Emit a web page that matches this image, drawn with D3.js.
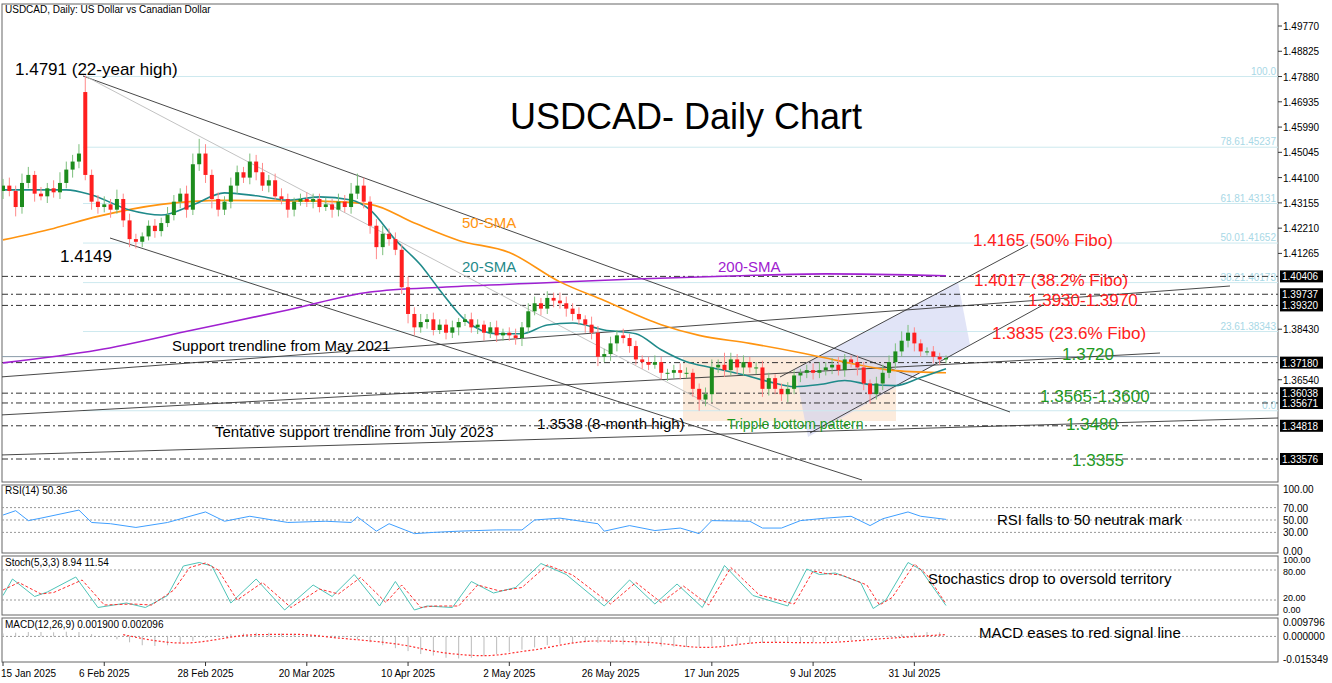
<!DOCTYPE html>
<html><head><meta charset="utf-8">
<script src="https://cdn.jsdelivr.net/npm/d3@7"></script>
<style>
body{margin:0;background:#fff;}
svg{font-family:"Liberation Sans",Arial,sans-serif;}
</style></head>
<body><div id="chart"></div>
<script>
// ---- data ----
var dateLabels = ['15 Jan 2025','6 Feb 2025','28 Feb 2025','20 Mar 2025','10 Apr 2025','2 May 2025','26 May 2025','17 Jun 2025','9 Jul 2025','31 Jul 2025'];
var closes = [1.4380,1.4360,1.4300,1.4390,1.4420,1.4350,1.4340,1.4370,1.4355,1.4390,
  1.4440,1.4470,1.4500,1.4420,1.4320,1.4300,1.4310,1.4290,1.4330,1.4250,
  1.4180,1.4170,1.4190,1.4230,1.4210,1.4240,1.4270,1.4320,1.4350,1.4290,
  1.4460,1.4500,1.4420,1.4330,1.4290,1.4320,1.4380,1.4430,1.4410,1.4470,
  1.4430,1.4380,1.4400,1.4340,1.4330,1.4290,1.4320,1.4330,1.4320,1.4330,
  1.4300,1.4310,1.4290,1.4320,1.4300,1.4350,1.4380,1.4320,1.4230,1.4150,
  1.4200,1.4180,1.4140,1.4000,1.3900,1.3850,1.3870,1.3880,1.3840,1.3860,
  1.3830,1.3850,1.3870,1.3880,1.3850,1.3860,1.3830,1.3850,1.3820,1.3830,
  1.3820,1.3810,1.3850,1.3910,1.3940,1.3920,1.3960,1.3950,1.3940,1.3920,
  1.3900,1.3880,1.3860,1.3830,1.3740,1.3750,1.3790,1.3820,1.3810,1.3780,
  1.3730,1.3720,1.3710,1.3720,1.3680,1.3680,1.3690,1.3680,1.3680,1.3620,
  1.3580,1.3600,1.3700,1.3710,1.3690,1.3730,1.3700,1.3720,1.3700,1.3700,
  1.3620,1.3660,1.3620,1.3600,1.3620,1.3670,1.3680,1.3690,1.3680,1.3690,
  1.3700,1.3710,1.3690,1.3730,1.3720,1.3700,1.3640,1.3600,1.3640,1.3680,
  1.3720,1.3760,1.3800,1.3830,1.3790,1.3760,1.3760,1.3740,1.3730,1.3735];
var firstOpen = 1.4360;
var gapOpens = {13: 1.4730};
var wickUp = [25,30,20,35,30,15,25,20,30,40, 30,25,35,61,20,25,30,20,35,20,
  25,20,15,20,25,20,30,25,20,30, 40,55,35,20,25,20,30,25,20,30,
  25,35,20,25,30,20,15,20,25,20, 20,25,20,30,25,40,45,30,20,25,
  30,20,25,20,40,25,30,20,25,20, 20,25,15,20,25,20,15,20,25,15,
  20,25,20,30,25,20,25,20,30,25, 20,25,15,30,25,20,25,20,25,15,
  20,15,20,25,20,15,20,25,20,15, 20,25,30,20,45,25,20,25,20,20,
  25,20,15,20,25,20,15,20,25,30, 20,25,30,20,15,25,20,15,25,30,
  25,30,35,29,20,15,15,20,15,10];
var wickDn = [30,20,35,25,20,30,15,25,20,25, 20,30,25,20,30,25,20,30,15,25,
  30,25,20,15,25,20,15,20,25,30, 20,25,30,35,25,20,25,30,20,25,
  30,20,25,15,20,30,25,15,20,25, 20,15,30,25,20,25,20,25,30,45,
  30,25,20,25,35,30,20,25,20,15, 25,20,30,15,20,25,30,20,25,20,
  20,25,30,20,15,25,20,25,20,30, 25,20,30,25,35,20,25,30,20,25,
  20,25,20,15,25,30,20,25,20,30, 42,25,30,20,25,20,25,30,20,25,
  30,25,20,25,30,20,25,20,25,20, 20,25,20,25,20,30,25,35,20,25,
  20,25,20,25,30,20,15,25,20,15];
var sma20 = [[0,1.4364],[10,1.4364],[14,1.4345],[20,1.4289],[25,1.4270],[30,1.4308],[35,1.4353],[40,1.4342],[45,1.4326],[50,1.4338],[55,1.4326],[58,1.4289],[62,1.4177],[66,1.4083],[69,1.3990],[73,1.3878],[78,1.3826],[82,1.3826],[86,1.3859],[90,1.3866],[95,1.3840],[100,1.3826],[104,1.3766],[108,1.3721],[112,1.3699],[117,1.3673],[121,1.3647],[125,1.3628],[129,1.3636],[133,1.3651],[137,1.3636],[141,1.3632],[145,1.3662],[149,1.3695]];
var sma50 = [[0,1.4177],[8,1.4220],[15,1.4265],[25,1.4310],[35,1.4325],[50,1.4322],[58,1.4310],[65,1.4240],[72,1.4175],[80,1.4130],[88,1.4020],[95,1.3950],[104,1.3860],[110,1.3820],[118,1.3790],[126,1.3755],[133,1.3720],[141,1.3688],[149,1.3680]];
var sma200 = [[0,1.3717],[15,1.3765],[30,1.3840],[45,1.3915],[58,1.3982],[70,1.4001],[85,1.4016],[100,1.4031],[115,1.4042],[130,1.4050],[149,1.4043]];
var rsi = [[0,58],[2,65],[4,49],[6,53],[12,66],[14,46],[17,44],[21,38],[26,46],[32,63],[35,48],[39,56],[45,46],[51,48],[55,46],[56,55],[59,32],[61,44],[65,28],[68,30],[72,32],[78,34],[82,34],[84,50],[88,53],[94,44],[95,32],[99,41],[103,33],[107,37],[110,28],[112,49],[118,48],[120,37],[123,37],[126,49],[130,53],[134,56],[137,41],[139,52],[143,63],[145,56],[149,51]];
var stochK = [[0,29],[1.5,62],[5,27],[7,36],[11.5,66],[15,5],[19.5,14],[22.5,5],[26,29],[28.5,88],[31,95],[33,88],[36,14],[40,62],[44.5,0],[49,50],[52,27],[55.5,71],[59.5,8],[62,57],[65,0],[67,8],[71,5],[74,57],[77.5,34],[81,45],[85,93],[89,71],[95,8],[99,60],[103,12],[106.5,52],[110.5,5],[114,89],[118.5,29],[124,8],[127,82],[129,71],[131.5,74],[135.5,55],[137.5,3],[139.5,20],[143,95],[145,81],[149,9]];
var stochD = [[0,40],[2.5,55],[6,32],[8,35],[12.5,60],[16,10],[20.5,12],[23.5,10],[27,40],[29.5,85],[32,94],[34,80],[37,20],[41,55],[45.5,5],[50,42],[53,32],[56.5,65],[60.5,15],[63,50],[66,5],[68,8],[72,8],[75,50],[78.5,38],[82,45],[86,90],[90,70],[96,12],[100,55],[104,15],[107.5,48],[111.5,10],[115,85],[119.5,30],[125,12],[128,78],[130,73],[132.5,70],[136.5,50],[138.5,10],[140.5,25],[144,92],[146,70],[149,12]];
var macdHist = [0.002,0.0025,0.003,0.003,0.0028,0.0032,
  0.003,0.0015,0.0,-0.002,
  -0.004,-0.006,-0.0065,-0.006,-0.005,-0.003,-0.001,0.0005,
  0.0015,0.002,0.0025,0.0025,0.002,0.0018,0.0015,0.0012,
  0.0005,-0.0005,-0.002,-0.004,-0.006,-0.008,-0.01,-0.012,
  -0.013,-0.0145,-0.015,-0.0145,-0.0135,-0.012,-0.0105,-0.009,
  -0.0075,-0.006,-0.005,-0.0045,-0.004,-0.0045,-0.005,-0.0055,
  -0.006,-0.0065,-0.0068,-0.007,-0.0072,-0.007,-0.0065,-0.006,
  -0.0055,-0.005,-0.0045,-0.004,-0.0042,-0.0045,-0.004,-0.0035,
  -0.003,-0.0025,-0.0015,-0.0005,0.0005,0.0015,0.0025,0.003,0.0028];
var macdSignal = [[19,0.0012],[28.5,-0.0045],[40,0.0012],[46,0.0014],[53,-0.0011],[63,-0.0057],[69.5,-0.011],[76,-0.0131],[83,-0.0097],[93.7,-0.0031],[101.7,-0.004],[111,-0.0075],[120.6,-0.004],[128.7,-0.0043],[139.4,-0.0014],[148.8,0.0012]];
var priceTicks = [1.49770,1.48825,1.47880,1.46935,1.45990,1.45045,1.44100,1.43155,1.42210,1.41265,1.38430,1.36540];
var boxLevels = [1.40406,1.39737,1.39320,1.37180,1.36038,1.35671,1.34818,1.33576];
var fiboLevels = [1.47880,1.45237,1.43131,1.41652,1.40173,1.38343,1.35380];
var fiboLabels = ['100.0','78.61.45237','61.81.43131','50.01.41652','38.21.40173','23.61.38343','0.0'];
var greyLevel = 1.37405;
var stochTicks = [100, 80, 20, 0];

// ---- layout ----
var W = 1332, H = 683, axisX = 1278;
var svg = d3.select('#chart').append('svg').attr('width', W).attr('height', H);

var x = d3.scaleLinear().domain([0, 149]).range([3, 946]);
var y = d3.scaleLinear().domain([1.33576, 1.49770]).range([459, 26]);
var yRsi = d3.scaleLinear().domain([0, 100]).range([551, 489]);
var ySto = d3.scaleLinear().domain([0, 100]).range([610, 560]);
var yMacd = d3.scaleLinear().domain([-0.015349, 0.009796]).range([659, 622]);

// panel frames
[[4, 482], [485, 553], [556, 615], [618, 662]].forEach(function(p) {
    svg.append('rect').attr('x', 2).attr('y', p[0]).attr('width', axisX - 2).attr('height', p[1] - p[0])
        .attr('fill', 'none').attr('stroke', '#666').attr('stroke-width', 1);
});

var main = svg.append('g');
main.append('defs').append('clipPath').attr('id', 'clipMain')
    .append('rect').attr('x', 2).attr('y', 4).attr('width', axisX - 2).attr('height', 478);
var g = main.append('g').attr('clip-path', 'url(#clipMain)');

// shaded zones
g.append('rect').attr('x', 683).attr('y', 357).attr('width', 213).attr('height', 64)
    .attr('fill', '#fbe8d6').attr('opacity', 0.85);
g.append('polygon').attr('points', '808,437 795,369 958,282 970,345')
    .attr('fill', '#c9cdf0').attr('opacity', 0.55);

// fibo lines
fiboLevels.forEach(function(v, i) {
    g.append('line').attr('x1', 83).attr('x2', axisX).attr('y1', y(v)).attr('y2', y(v))
        .attr('stroke', '#cde9ef').attr('stroke-width', 1);
    g.append('text').attr('x', axisX - 2).attr('y', y(v) - 2).attr('text-anchor', 'end')
        .attr('font-size', 10).attr('fill', '#a8d8e6').text(fiboLabels[i]);
});

// horizontal levels
g.append('line').attr('x1', 2).attr('x2', axisX).attr('y1', y(greyLevel)).attr('y2', y(greyLevel))
    .attr('stroke', '#8a9aa8');
boxLevels.forEach(function(v) {
    g.append('line').attr('x1', 2).attr('x2', axisX).attr('y1', y(v)).attr('y2', y(v))
        .attr('stroke', '#333').attr('stroke-dasharray', '6,3,2,3').attr('stroke-width', 1);
});

// trendlines
var tl = [
    [83, 76, 1010, 412, '#333'],
    [110, 238, 862, 480, '#333'],
    [85, 76, 720, 410, '#bbb'],
    [0, 377, 1230, 286, '#333'],
    [0, 415, 1160, 353, '#333'],
    [0, 455, 1278, 418, '#333'],
    [780, 377, 1028, 245, '#333'],
    [810, 433, 1043, 305, '#333']
];
tl.forEach(function(l) {
    g.append('line').attr('x1', l[0]).attr('y1', l[1]).attr('x2', l[2]).attr('y2', l[3])
        .attr('stroke', l[4]).attr('stroke-width', 0.9);
});

// SMAs
function smaLine(data, color) {
    g.append('path').datum(data)
        .attr('d', d3.line().x(function(d) { return x(d[0]); }).y(function(d) { return y(d[1]); }).curve(d3.curveMonotoneX))
        .attr('fill', 'none').attr('stroke', color).attr('stroke-width', 1.6);
}
smaLine(sma200, '#a020d0');
smaLine(sma50, '#ff9410');
smaLine(sma20, '#1f8a8a');

// candles
var candles = closes.map(function(c, i) {
    var o = gapOpens[i] !== undefined ? gapOpens[i] : (i === 0 ? firstOpen : closes[i - 1]);
    return {i: i, o: o, c: c, h: Math.max(o, c) + wickUp[i] / 10000, l: Math.min(o, c) - wickDn[i] / 10000};
});
var cg = g.selectAll('.candle').data(candles).enter().append('g');
cg.append('line')
    .attr('x1', function(d) { return x(d.i); }).attr('x2', function(d) { return x(d.i); })
    .attr('y1', function(d) { return y(d.h); }).attr('y2', function(d) { return y(d.l); })
    .attr('stroke', function(d) { return d.c >= d.o ? '#7cbf7c' : '#ff8a8a'; }).attr('stroke-width', 1);
cg.append('rect')
    .attr('x', function(d) { return x(d.i) - 2; }).attr('width', 4)
    .attr('y', function(d) { return y(Math.max(d.o, d.c)); })
    .attr('height', function(d) { return Math.max(1, Math.abs(y(d.o) - y(d.c))); })
    .attr('fill', function(d) { return d.c >= d.o ? '#1d8c1d' : '#ff1f1f'; });

// annotations
function label(t, xx, yy, size, color, anchor) {
    svg.append('text').attr('x', xx).attr('y', yy).attr('font-size', size).attr('fill', color)
        .attr('text-anchor', anchor || 'start').text(t);
}
label('USDCAD, Daily:  US Dollar vs Canadian Dollar', 5, 13, 10, '#000');
label('USDCAD- Daily Chart', 686, 129, 36, '#000', 'middle');
label('1.4791 (22-year high)', 15, 75, 17, '#000');
label('1.4149', 60, 262, 17, '#000');
label('50-SMA', 462, 228, 15, '#ff9410');
label('20-SMA', 462, 272, 15, '#1f8a8a');
label('200-SMA', 718, 272, 15, '#a020d0');
label('1.4165 (50% Fibo)', 973, 246, 17, '#ff2020');
label('1.4017 (38.2% Fibo)', 974, 286, 17, '#ff2020');
label('1.3930-1.3970', 1028, 306, 17, '#ff2020');
label('1.3835 (23.6% Fibo)', 992, 339, 17, '#ff2020');
label('1.3720', 1062, 360, 17, '#1f9a1f');
label('1.3565-1.3600', 1040, 402, 17, '#1f9a1f');
label('1.3480', 1066, 430, 17, '#1f9a1f');
label('1.3355', 1072, 466, 17, '#1f9a1f');
label('Support trendline from May 2021', 172, 351, 15, '#000');
label('Tentative support trendline from July 2023', 215, 437, 15, '#000');
label('1.3538 (8-month high)', 537, 429, 15, '#000');
label('Tripple bottom pattern', 727, 429, 14, '#1f9a1f');

// right price axis
priceTicks.forEach(function(v) {
    svg.append('line').attr('x1', axisX).attr('x2', axisX + 4).attr('y1', y(v)).attr('y2', y(v)).attr('stroke', '#333');
    label(v.toFixed(5), axisX + 5, y(v) + 4, 10, '#000');
});
boxLevels.forEach(function(v) {
    svg.append('rect').attr('x', axisX + 2).attr('y', y(v) - 6).attr('width', 43).attr('height', 12).attr('fill', '#000');
    label(v.toFixed(5), axisX + 4, y(v) + 4, 10, '#fff');
});

// RSI panel
[70, 50, 30].forEach(function(v) {
    svg.append('line').attr('x1', 2).attr('x2', axisX).attr('y1', yRsi(v)).attr('y2', yRsi(v))
        .attr('stroke', '#999').attr('stroke-dasharray', '2,2');
});
[100, 70, 50, 30, 0].forEach(function(v) {
    label(v.toFixed(2), axisX + 5, yRsi(v) + 4, 10, '#000');
});
svg.append('path').datum(rsi)
    .attr('d', d3.line().x(function(d) { return x(d[0]); }).y(function(d) { return yRsi(d[1]); }))
    .attr('fill', 'none').attr('stroke', '#3f9fff').attr('stroke-width', 1);
label('RSI(14) 50.36', 5, 494, 10, '#000');
label('RSI falls to 50 neutrak mark', 997, 525, 15, '#000');

// Stochastic panel
[80, 20].forEach(function(v) {
    svg.append('line').attr('x1', 2).attr('x2', axisX).attr('y1', ySto(v)).attr('y2', ySto(v))
        .attr('stroke', '#999').attr('stroke-dasharray', '2,2');
});
// labels nudged apart so they don't collide
var stochLabelY = [563, 575, 601, 613];
stochTicks.forEach(function(v, i) {
    label(v.toFixed(2), axisX + 5, stochLabelY[i], 9, '#000');
});
svg.append('path').datum(stochK)
    .attr('d', d3.line().x(function(d) { return x(d[0]); }).y(function(d) { return ySto(d[1]); }))
    .attr('fill', 'none').attr('stroke', '#4fc4b8').attr('stroke-width', 1);
svg.append('path').datum(stochD)
    .attr('d', d3.line().x(function(d) { return x(d[0]); }).y(function(d) { return ySto(d[1]); }))
    .attr('fill', 'none').attr('stroke', '#ff3030').attr('stroke-width', 1).attr('stroke-dasharray', '3,2');
label('Stoch(5,3,3) 8.94 11.54', 5, 566, 10, '#000');
label('Stochastics drop to oversold territory', 928, 584, 15, '#000');

// MACD panel
svg.append('line').attr('x1', 2).attr('x2', axisX).attr('y1', yMacd(0)).attr('y2', yMacd(0))
    .attr('stroke', '#999').attr('stroke-dasharray', '2,2');
svg.selectAll('.mh').data(macdHist).enter().append('line')
    .attr('x1', function(d, i) { return x(i * 2); }).attr('x2', function(d, i) { return x(i * 2); })
    .attr('y1', yMacd(0)).attr('y2', function(d) { return yMacd(d); })
    .attr('stroke', '#bbb').attr('stroke-width', 1);
svg.append('path').datum(macdSignal)
    .attr('d', d3.line().x(function(d) { return x(d[0]); }).y(function(d) { return yMacd(d[1]); }).curve(d3.curveMonotoneX))
    .attr('fill', 'none').attr('stroke', '#ff3030').attr('stroke-width', 1.2).attr('stroke-dasharray', '2,2');
[['0.009796', 0.009796], ['0.000000', 0], ['-0.015349', -0.015349]].forEach(function(p) {
    label(p[0], axisX + 5, yMacd(p[1]) + 4, 10, '#000');
});
label('MACD(12,26,9) 0.001900 0.002096', 5, 628, 10, '#000');
label('MACD eases to red signal line', 979, 638, 15, '#000');

// date axis
dateLabels.forEach(function(t, i) {
    var xx = x(i * 16);
    svg.append('line').attr('x1', xx).attr('x2', xx).attr('y1', 662).attr('y2', 666).attr('stroke', '#333');
    label(t, xx + (i === 0 ? -2 : 0), 677, 10, '#000', i === 0 ? 'start' : 'middle');
});
</script>
</body></html>
